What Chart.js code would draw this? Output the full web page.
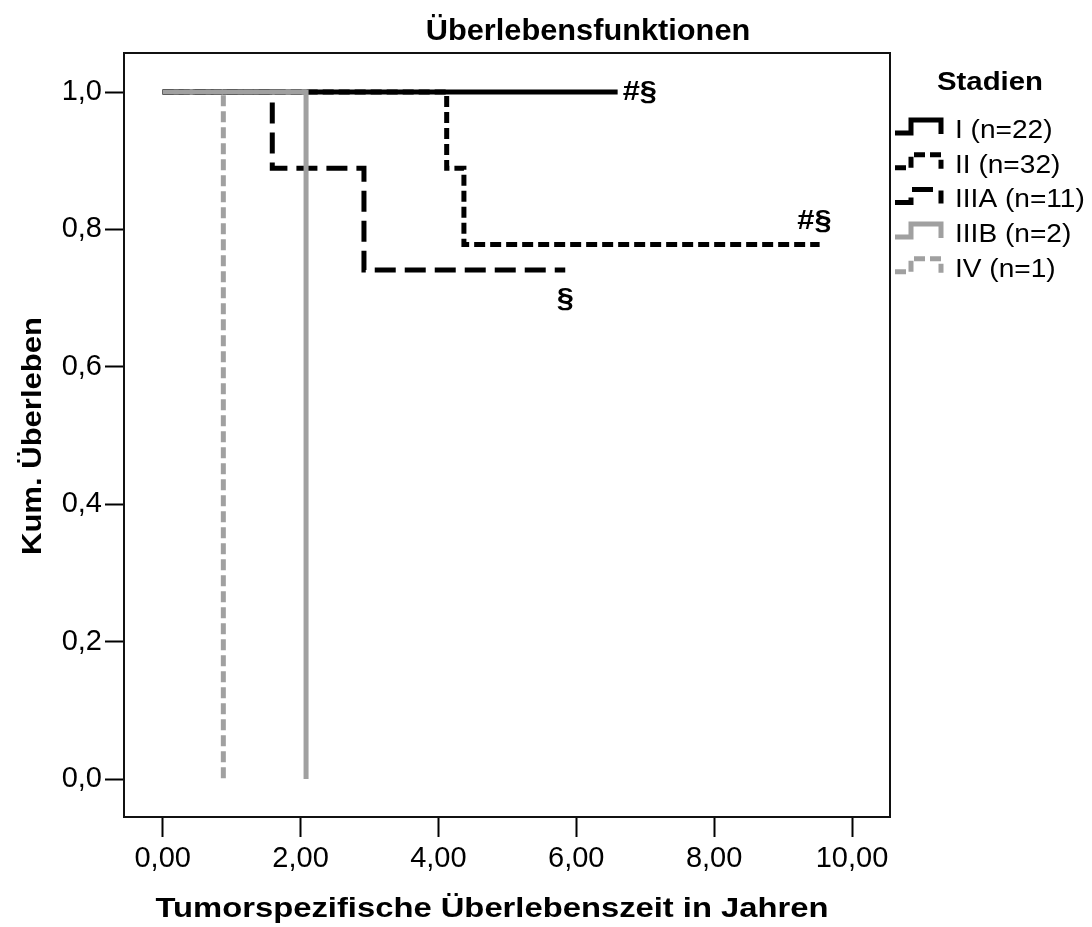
<!DOCTYPE html>
<html lang="de">
<head>
<meta charset="UTF-8">
<title>Überlebensfunktionen</title>
<script src="https://cdn.jsdelivr.net/npm/chart.js"></script>
<style>
  body { margin: 0; background: #fff; }
  #wrap { position: relative; width: 1092px; height: 927px; }
</style>
</head>
<body>
<div id="wrap"><canvas id="km"></canvas></div>
<script>
// Kaplan-Meier step data (years, cumulative survival)
const stages = ['I (n=22)', 'II (n=32)', 'IIIA (n=11)', 'IIIB (n=2)', 'IV (n=1)'];
const timesI = [0, 6.6];
const survI = [1, 1];
const timesII = [0, 4.12, 4.37, 9.53];
const survII = [1, 0.889, 0.778, 0.778];
const timesIIIA = [0, 1.59, 2.92, 5.84];
const survIIIA = [1, 0.889, 0.741, 0.741];
const timesIIIB = [0, 2.08];
const survIIIB = [1, 0];
const timesIV = [0, 0.88];
const survIV = [1, 0];
const xTicks = [0, 2, 4, 6, 8, 10];
const yTicks = [0, 0.2, 0.4, 0.6, 0.8, 1.0];
// end-of-curve marks: [dataset index, text]
const endMarks = [[0, '#§'], [1, '#§'], [2, '§']];

const GREY = '#a0a0a0';
const FONT = "'Liberation Sans', Arial, sans-serif";

function pts(t, s) { return t.map((v, i) => ({ x: v, y: s[i] })); }

function ds(label, t, s, color, dash, order) {
  return {
    label, data: pts(t, s), borderColor: color, borderWidth: 5,
    borderDash: dash, stepped: 'before', pointRadius: 0, fill: false,
    borderCapStyle: 'butt', borderJoinStyle: 'miter', order
  };
}

const datasets = [
  ds(stages[0], timesI, survI, '#000', [], 1),
  ds(stages[1], timesII, survII, '#000', [11, 5], 2),
  ds(stages[2], timesIIIA, survIIIA, '#000', [21, 9], 3),
  ds(stages[3], timesIIIB, survIIIB, GREY, [], 0),
  ds(stages[4], timesIV, survIV, GREY, [11, 5], 4)
];

function stretchText(ctx, text, x, y, sx, align) {
  ctx.save();
  ctx.translate(x, y);
  ctx.scale(sx, 1);
  ctx.textAlign = align || 'center';
  ctx.fillText(text, 0, 0);
  ctx.restore();
}

const decor = {
  id: 'decor',
  afterDraw(chart) {
    const ctx = chart.ctx;
    const a = chart.chartArea;
    const xs = chart.scales.x, ys = chart.scales.y;
    ctx.save();
    // frame
    ctx.strokeStyle = '#111';
    ctx.lineWidth = 2;
    ctx.strokeRect(a.left, a.top, a.right - a.left, a.bottom - a.top);

    ctx.fillStyle = '#000';
    ctx.textBaseline = 'alphabetic';
    // title
    ctx.font = 'bold 29px ' + FONT;
    stretchText(ctx, 'Überlebensfunktionen', 588, 40, 1.06);
    // x axis title
    ctx.font = 'bold 28px ' + FONT;
    stretchText(ctx, 'Tumorspezifische Überlebenszeit in Jahren', 492, 917, 1.17);
    // y axis title
    ctx.save();
    ctx.translate(41, 436);
    ctx.rotate(-Math.PI / 2);
    ctx.font = 'bold 27px ' + FONT;
    stretchText(ctx, 'Kum. Überleben', 0, 0, 1.15);
    ctx.restore();

    // end marks
    ctx.font = 'bold 28px ' + FONT;
    endMarks.forEach(([i, txt]) => {
      const d = chart.data.datasets[i].data;
      const last = d[d.length - 1];
      const px = xs.getPixelForValue(last.x), py = ys.getPixelForValue(last.y);
      if (i === 0) stretchText(ctx, txt, px + 5, py + 8, 1.1, 'left');
      else if (i === 1) stretchText(ctx, txt, px + 12, py - 16, 1.1, 'right');
      else stretchText(ctx, txt, px, py + 37, 1.1, 'center');
    });

    // legend
    ctx.font = 'bold 26px ' + FONT;
    stretchText(ctx, 'Stadien', 990, 90, 1.13);
    ctx.font = '26px ' + FONT;
    chart.data.datasets.forEach((d, i) => {
      const c = 129 + i * 34.7;
      ctx.save();
      ctx.strokeStyle = d.borderColor;
      ctx.lineWidth = 5;
      ctx.setLineDash(d.borderDash);
      ctx.lineCap = 'butt';
      ctx.lineJoin = 'miter';
      ctx.beginPath();
      ctx.moveTo(895, c + 4);
      ctx.lineTo(911, c + 4);
      ctx.lineTo(911, c - 9);
      ctx.lineTo(941, c - 9);
      ctx.lineTo(941, c + 5);
      ctx.stroke();
      ctx.restore();
      stretchText(ctx, d.label, 955, c + 9, 1.08, 'left');
    });
    ctx.restore();
  }
};

new Chart(document.getElementById('km'), {
  type: 'line',
  data: { datasets },
  options: {
    responsive: true,
    maintainAspectRatio: false,
    animation: false,
    layout: { padding: { top: 53, right: 202, bottom: 0, left: 0 } },
    plugins: { legend: { display: false }, tooltip: { enabled: false }, title: { display: false } },
    scales: {
      x: {
        type: 'linear',
        min: -0.561, max: 10.551,
        afterBuildTicks: s => { s.ticks = xTicks.map(v => ({ value: v })); },
        afterFit: s => { s.height = 110; },
        border: { display: false },
        grid: { drawOnChartArea: false, drawTicks: true, tickLength: 20, tickWidth: 2, color: '#000' },
        ticks: {
          color: '#000', padding: 5, maxRotation: 0,
          font: { family: FONT, size: 29 },
          callback: v => v.toFixed(2).replace('.', ',')
        }
      },
      y: {
        type: 'linear',
        min: -0.0553, max: 1.0568,
        afterBuildTicks: s => { s.ticks = yTicks.map(v => ({ value: v })); },
        afterFit: s => { s.width = 124; },
        border: { display: false },
        grid: { drawOnChartArea: false, drawTicks: true, tickLength: 19, tickWidth: 2, color: '#000' },
        ticks: {
          color: '#000', padding: 3,
          font: { family: FONT, size: 29 },
          callback: v => v.toFixed(1).replace('.', ',')
        }
      }
    }
  },
  plugins: [decor]
});
</script>
</body>
</html>
